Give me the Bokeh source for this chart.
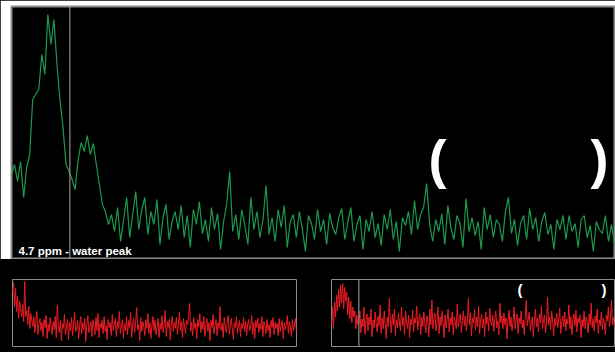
from bokeh.plotting import figure
from bokeh.layouts import column, row
from bokeh.models import Range1d, Span, Label
from bokeh.embed import file_html
from bokeh.resources import INLINE
import numpy as np

# ---- data ----
ppm_left, ppm_right = 5.22, -0.15
water_ppm = 4.7

# main spectrum (amplitude, arbitrary units), evenly spaced from ppm_left to ppm_right
main_spectrum = [
    85, 95, 78, 98, 62, 92, 105, 160, 165, 170, 205, 185, 245, 215, 240, 195, 160, 132, 95, 88,
    80, 70, 100, 117, 108, 124, 105, 116, 95, 75, 55, 48, 35, 45,
    28, 52, 18, 40, 62, 22, 45, 68, 30, 50,
    62, 25, 48, 35, 60, 15, 42, 55, 20, 38,
    48, 30, 54, 22, 44, 12, 50, 35, 58, 26,
    40, 18, 52, 30, 46, 10, 38, 55, 88, 28,
    45, 20, 50, 34, 15, 62, 30, 48, 22, 40,
    74, 25, 42, 18, 50, 32, 54, 12, 38, 45,
    22, 48, 30, 8, 44, 36, 20, 50, 28, 40,
    15, 46, 32, 25, 42, 51, 20, 38, 52, 18,
    35, 44, 10, 40, 28, 48, 22, 36, 14, 45,
    30, 50, 20, 38, 8, 42, 34, 48, 25, 59,
    30, 45, 52, 76, 35, 18, 40, 28, 46, 15,
    54, 32, 20, 44, 36, 12, 61, 28, 42, 24,
    38, 10, 52, 30, 45, 22, 40, 35, 18, 48,
    62, 26, 40, 14, 36, 44, 20, 51, 30, 42,
    18, 38, 47, 25, 35, 10, 40, 30, 44, 20,
    44, 28, 36, 12, 40, 44, 22, 34, 8, 38,
    30, 26, 44, 18, 35, 15,
]

# single shot time domain data
time_domain = [
    55, 64, 40, 58, 35, 50, 28, 45, 38, 30,
    42, 25, 65, 30, 36, 22, 40, 18, 33, 26,
    20, 30, 14, 26, 35, 12, 22, 28, 16, 24,
    10, 27, 19, 31, 8, 22, 15, 29, 20, 12,
    25, 17, 30, 9, 41, 21, 14, 26, 6, 23,
    18, 32, 12, 20, 27, 7, 24, 16, 29, 11,
    22, 34, 15, 19, 26, 8, 21, 30, 13, 24,
    17, 28, 5, 22, 31, 14, 19, 25, 10, 27,
    20, 12, 29, 16, 33, 9, 23, 18, 26, 13,
    30, 15, 21, 7, 27, 19, 24, 11, 32, 16,
    22, 28, 10, 25, 18, 35, 13, 20, 27, 8,
    23, 16, 30, 12, 26, 19, 34, 9, 21, 28,
    14, 24, 39, 17, 22, 6, 29, 15, 25, 20,
    11, 27, 18, 33, 13, 24, 8, 21, 30, 16,
    26, 12, 20, 28, 9, 23, 17, 31, 14, 22,
    36, 10, 25, 19, 27, 7, 22, 30, 15, 24,
    18, 29, 12, 21, 34, 16, 25, 9, 28, 20,
    13, 26, 22, 31, 43, 15, 24, 11, 29, 18,
    23, 8, 27, 20, 33, 14, 25, 17, 30, 10,
    22, 28, 15, 24, 6, 26, 19, 32, 13, 21,
    27, 11, 24, 18, 40, 16, 23, 9, 29, 20,
    14, 25, 31, 12, 22, 28, 17, 7, 24, 19,
    30, 13, 21, 26, 10, 23, 18, 29, 15, 25,
    11, 22, 27, 16, 20, 31, 12, 24, 8, 26,
    19, 28, 14, 23, 17, 30, 10, 25, 21, 13,
    27, 16, 22, 9, 26, 19, 29, 12, 24, 18,
    23, 11, 28, 15, 21, 26, 8, 24, 17, 22,
    31, 13, 25, 19, 10, 27, 16, 22, 28, 14,
]

# single shot spectrum
single_spectrum = [
    22, 40, 18, 45, 30, 52, 36, 58, 40, 62,
    44, 64, 38, 60, 46, 55, 32, 50, 28, 46,
    24, 40, 30, 36, 18, 32, 22, 24, 36, 14,
    28, 20, 40, 12, 26, 33, 16, 30, 22, 38,
    10, 27, 19, 35, 24, 15, 31, 21, 42, 13,
    29, 18, 36, 23, 8, 30, 20, 49, 26, 14,
    33, 22, 38, 11, 27, 19, 34, 24, 16, 40,
    21, 30, 12, 36, 25, 18, 32, 9, 28, 22,
    37, 15, 29, 24, 41, 17, 26, 33, 12, 30,
    20, 35, 23, 14, 31, 26, 10, 38, 22, 47,
    18, 28, 34, 16, 25, 40, 13, 30, 21, 36,
    24, 9, 32, 19, 27, 38, 15, 29, 22, 35,
    12, 30, 25, 18, 43, 20, 28, 33, 14, 26,
    36, 21, 31, 16, 27, 49, 22, 34, 11, 29,
    24, 38, 17, 30, 20, 41, 13, 27, 33, 19,
    28, 10, 35, 23, 30, 16, 39, 25, 21, 32,
    15, 28, 36, 19, 26, 12, 44, 24, 31, 18,
    34, 22, 29, 8, 27, 37, 20, 30, 16, 25,
    40, 18, 26, 33, 13, 29, 23, 36, 19, 27,
    12, 31, 47, 21, 28, 35, 16, 24, 30, 10,
    26, 38, 20, 29, 15, 33, 24, 41, 18, 27,
    32, 14, 25, 50, 22, 30, 17, 36, 26, 11,
    29, 21, 34, 19, 27, 39, 13, 25, 31, 20,
    35, 16, 28, 23, 42, 18, 30, 12, 26, 33,
    21, 37, 15, 29, 24, 32, 9, 27, 20, 36,
    18, 30, 25, 14, 33, 22, 44, 19, 28, 16,
    31, 24, 38, 13, 27, 21, 35, 17, 29, 23,
    12, 32, 26, 40, 20, 28, 47, 22, 30, 18,
]

water_label = "4.7 ppm - water peak"
region_labels = ["1.9 ppm", "0 ppm"]
title_time = "Single Shot Time Domain Data"
title_spec = "Single Shot Spectrum"
axis_fragment = "-100"

GREEN = "#1c9a4e"
RED = "#ec1c24"
TITLE_RED = "#c81e26"
GRAY = "#8c8c8c"
FONT = "Liberation Sans"

main_x = np.linspace(ppm_left, ppm_right, len(main_spectrum))
spec_x = np.linspace(ppm_left, ppm_right, len(single_spectrum))
time_x = np.arange(len(time_domain))


def base(width, height, xr, yr, left, right, top, bottom):
    f = figure(width=width, height=height, x_range=xr, y_range=yr,
               toolbar_location=None, output_backend="svg",
               x_axis_location=None, y_axis_location=None,
               min_border_left=left, min_border_right=right,
               min_border_top=top, min_border_bottom=bottom)
    f.grid.visible = False
    f.background_fill_color = "black"
    f.border_fill_color = "black"
    f.outline_line_color = GRAY
    return f


# ---- main spectrum ----
p = base(615, 259, Range1d(ppm_left, ppm_right), Range1d(0, 253), 11, 1, 6, 0)
p.border_fill_color = "white"
p.outline_line_width = 2
p.line(main_x, main_spectrum, line_color=GREEN, line_width=1.2)
p.add_layout(Span(location=water_ppm, dimension="height", line_color="#a8a8a8", line_width=1))
p.add_layout(Label(x=7, y=9, x_units="screen", y_units="screen", text=water_label,
                   text_color="white", text_font=FONT, text_font_style="bold",
                   text_font_size="11.5px", text_baseline="middle"))
p.add_layout(Label(x=417, y=101, x_units="screen", y_units="screen", text="(",
                   text_color="white", text_font=FONT, text_font_style="bold",
                   text_font_size="54px", text_baseline="middle"))
p.add_layout(Label(x=579, y=101, x_units="screen", y_units="screen", text=")",
                   text_color="white", text_font=FONT, text_font_style="bold",
                   text_font_size="54px", text_baseline="middle"))

# ---- time domain ----
s1 = base(331, 93, Range1d(0, len(time_domain) - 1), Range1d(0, 67), 12, 35, 20, 6)
s1.line(time_x, time_domain, line_color=RED, line_width=1)
s1.add_layout(Label(x=0, y=74, x_units="screen", y_units="screen", text=title_time,
                    text_color=TITLE_RED, text_font=FONT, text_font_size="9px",
                    text_baseline="middle"))
s1.add_layout(Label(x=10, y=-1, x_units="screen", y_units="screen", text=axis_fragment,
                    text_color="#d8d8d8", text_font=FONT, text_font_style="bold",
                    text_font_size="6px", text_baseline="top"))

# ---- single shot spectrum ----
s2 = base(284, 93, Range1d(ppm_left, ppm_right), Range1d(0, 68), 0, 1, 20, 5)
s2.line(spec_x, single_spectrum, line_color=RED, line_width=1)
s2.add_layout(Span(location=water_ppm, dimension="height", line_color="#a8a8a8", line_width=1))
s2.add_layout(Label(x=0, y=75, x_units="screen", y_units="screen", text=title_spec,
                    text_color=TITLE_RED, text_font=FONT, text_font_size="9px",
                    text_baseline="middle"))
s2.add_layout(Label(x=86, y=79, x_units="screen", y_units="screen", text=region_labels[0],
                    text_color="white", text_font=FONT, text_font_style="bold",
                    text_font_size="11px", text_baseline="middle"))
s2.add_layout(Label(x=247, y=79, x_units="screen", y_units="screen", text=region_labels[1],
                    text_color="white", text_font=FONT, text_font_style="bold",
                    text_font_size="11px", text_baseline="middle"))
s2.add_layout(Label(x=186, y=57, x_units="screen", y_units="screen", text="(",
                    text_color="white", text_font=FONT, text_font_style="bold",
                    text_font_size="15px", text_baseline="middle"))
s2.add_layout(Label(x=270, y=57, x_units="screen", y_units="screen", text=")",
                    text_color="white", text_font=FONT, text_font_style="bold",
                    text_font_size="15px", text_baseline="middle"))

bottom_row = row(s1, s2, spacing=0, styles={"background-color": "black"})
layout = column(p, bottom_row, spacing=0, styles={"background-color": "black"})
open("out.html", "w").write(file_html(layout, INLINE))
